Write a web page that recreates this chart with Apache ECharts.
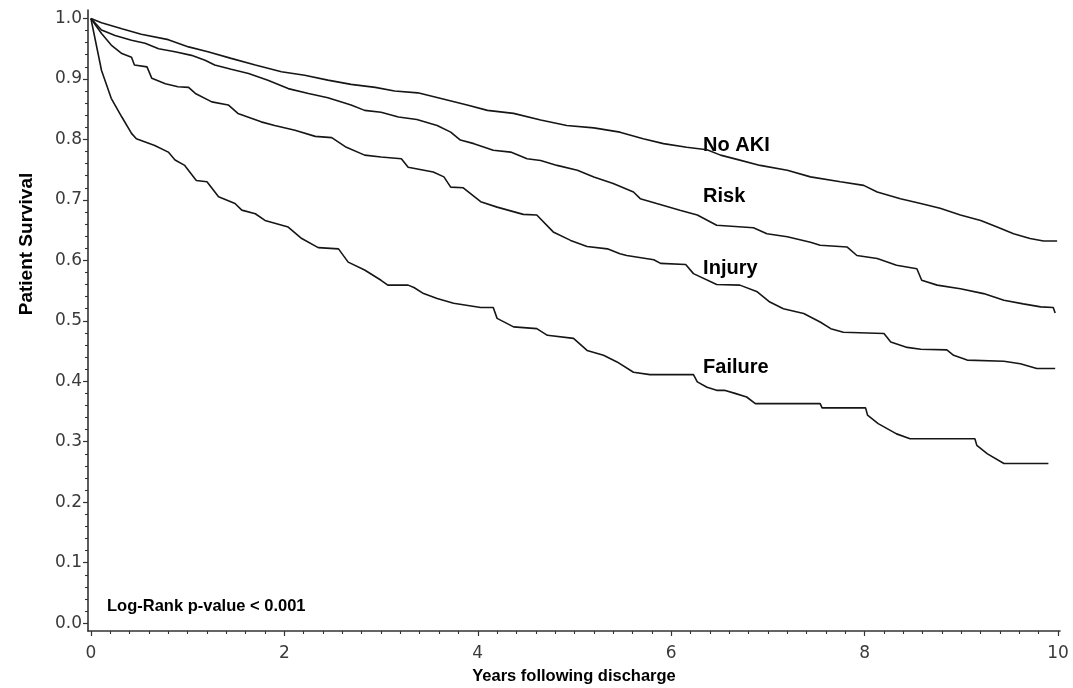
<!DOCTYPE html>
<html>
<head>
<meta charset="utf-8">
<script src="https://cdn.jsdelivr.net/npm/echarts@6/dist/echarts.min.js"></script>
<style>
  html, body { margin: 0; padding: 0; background: #fff; }
  #chart { width: 1073px; height: 688px; }
</style>
</head>
<body>
<div id="chart"></div>
<script>
// Kaplan-Meier curves: [years, survival]
var noAki = [[0,1],[0.11,0.993],[0.32,0.983],[0.52,0.974],[0.8,0.965],[1.01,0.953],[1.21,0.945],[1.45,0.934],[1.7,0.923],[1.97,0.912],[2.21,0.906],[2.45,0.898],[2.69,0.891],[2.94,0.886],[3.14,0.88],[3.38,0.877],[3.61,0.868],[3.89,0.857],[4.1,0.848],[4.37,0.843],[4.65,0.832],[4.92,0.823],[5.2,0.819],[5.47,0.812],[5.71,0.801],[5.92,0.793],[6.16,0.787],[6.37,0.783],[6.51,0.774],[6.68,0.767],[6.92,0.757],[7.2,0.749],[7.44,0.738],[7.75,0.73],[7.99,0.724],[8.13,0.713],[8.37,0.702],[8.58,0.694],[8.78,0.686],[8.99,0.675],[9.2,0.666],[9.37,0.655],[9.54,0.644],[9.71,0.636],[9.85,0.632],[9.99,0.632]]
var risk = [[0,1],[0.11,0.981],[0.25,0.972],[0.42,0.964],[0.56,0.959],[0.7,0.95],[0.87,0.945],[1.04,0.939],[1.18,0.931],[1.28,0.923],[1.45,0.916],[1.63,0.909],[1.83,0.898],[2.04,0.884],[2.25,0.876],[2.45,0.869],[2.69,0.857],[2.83,0.848],[3.0,0.845],[3.18,0.837],[3.37,0.833],[3.58,0.823],[3.72,0.812],[3.82,0.799],[3.96,0.793],[4.16,0.782],[4.34,0.779],[4.51,0.768],[4.65,0.765],[4.82,0.757],[5.03,0.749],[5.2,0.738],[5.4,0.727],[5.61,0.713],[5.68,0.702],[5.85,0.694],[6.09,0.683],[6.27,0.675],[6.47,0.658],[6.85,0.654],[6.99,0.644],[7.2,0.639],[7.44,0.63],[7.54,0.625],[7.82,0.622],[7.92,0.608],[8.13,0.603],[8.33,0.592],[8.54,0.586],[8.59,0.567],[8.75,0.559],[8.99,0.553],[9.23,0.545],[9.44,0.534],[9.64,0.528],[9.82,0.523],[9.95,0.522],[9.97,0.513]]
var injury = [[0,1],[0.11,0.975],[0.21,0.956],[0.32,0.942],[0.42,0.936],[0.45,0.923],[0.58,0.92],[0.63,0.901],[0.77,0.892],[0.9,0.887],[1.01,0.886],[1.08,0.876],[1.25,0.862],[1.42,0.857],[1.52,0.843],[1.76,0.829],[1.9,0.823],[2.11,0.815],[2.32,0.805],[2.49,0.803],[2.63,0.788],[2.83,0.774],[3.0,0.771],[3.21,0.768],[3.28,0.754],[3.54,0.746],[3.65,0.738],[3.72,0.721],[3.85,0.72],[4.03,0.697],[4.2,0.688],[4.47,0.676],[4.61,0.675],[4.78,0.647],[4.96,0.633],[5.13,0.623],[5.34,0.619],[5.47,0.611],[5.54,0.608],[5.82,0.601],[5.89,0.595],[6.15,0.593],[6.23,0.578],[6.47,0.56],[6.71,0.559],[6.89,0.548],[7.02,0.531],[7.16,0.52],[7.37,0.512],[7.54,0.498],[7.65,0.487],[7.78,0.481],[8.2,0.479],[8.27,0.465],[8.44,0.456],[8.58,0.453],[8.85,0.452],[8.92,0.443],[9.06,0.435],[9.44,0.433],[9.61,0.429],[9.78,0.421],[9.97,0.421]]
var failure = [[0,1],[0.11,0.914],[0.21,0.868],[0.32,0.837],[0.42,0.81],[0.47,0.801],[0.66,0.79],[0.8,0.779],[0.87,0.766],[0.97,0.757],[1.09,0.732],[1.2,0.73],[1.32,0.705],[1.49,0.694],[1.56,0.683],[1.7,0.677],[1.8,0.666],[2.04,0.655],[2.18,0.636],[2.35,0.621],[2.56,0.619],[2.66,0.597],[2.83,0.584],[3.0,0.567],[3.07,0.559],[3.28,0.559],[3.34,0.555],[3.44,0.545],[3.58,0.537],[3.75,0.529],[4.03,0.522],[4.16,0.522],[4.2,0.504],[4.37,0.49],[4.61,0.487],[4.72,0.476],[4.99,0.471],[5.13,0.451],[5.3,0.443],[5.44,0.432],[5.61,0.415],[5.78,0.411],[6.23,0.411],[6.27,0.399],[6.37,0.39],[6.47,0.385],[6.55,0.385],[6.66,0.38],[6.78,0.374],[6.87,0.363],[7.54,0.363],[7.56,0.356],[8.01,0.356],[8.03,0.344],[8.14,0.33],[8.33,0.313],[8.47,0.305],[9.14,0.305],[9.16,0.294],[9.27,0.28],[9.44,0.264],[9.9,0.264]]

var curveNames = ['No AKI', 'Risk', 'Injury', 'Failure']
var labelX = 6.33
var labelY = [0.790, 0.706, 0.587, 0.423]

var xMajor = [0, 2, 4, 6, 8, 10]
var yMajor = [0, 0.1, 0.2, 0.3, 0.4, 0.5, 0.6, 0.7, 0.8, 0.9, 1.0]

// minor ticks: 0.2 yr on x, 0.02 on y
var xMinor = []
for (var i = 1; i < 50; i++) { if (i % 10) xMinor.push(i / 5) }
var yMinor = []
for (var j = 1; j < 50; j++) { if (j % 5) yMinor.push(j / 50) }

var axisColor = '#333'
var tickFont = '"DejaVu Sans", sans-serif'
var boldFont = '"Liberation Sans", Arial, sans-serif'

var lineSeries = [noAki, risk, injury, failure].map(function (d, k) {
    return {
        name: curveNames[k],
        type: 'line',
        data: d,
        showSymbol: false,
        silent: true,
        lineStyle: { color: '#161616', width: 1.6 }
    }
})

var option = {
    animation: false,
    backgroundColor: '#fff',
    grid: { left: 88, right: 13, top: 10, bottom: 57, outerBoundsMode: 'none' },
    xAxis: [{
        type: 'value',
        min: -0.03,
        max: 10.02,
        position: 'bottom',
        name: 'Years following discharge',
        nameLocation: 'middle',
        nameGap: 37,
        nameTextStyle: { fontFamily: boldFont, fontWeight: 'bold', fontSize: 16.5, color: '#000' },
        axisLine: { onZero: false, lineStyle: { color: axisColor, width: 1.6 } },
        axisTick: { customValues: xMajor, length: 5, lineStyle: { color: axisColor, width: 1.2 } },
        axisLabel: { customValues: xMajor, margin: 14, fontSize: 17, color: '#3a3a3a', fontFamily: tickFont },
        splitLine: { show: false }
    }, {
        type: 'value',
        min: -0.03,
        max: 10.02,
        position: 'bottom',
        axisLine: { show: false, onZero: false },
        axisTick: { customValues: xMinor, length: 3, lineStyle: { color: axisColor, width: 1.1 } },
        axisLabel: { show: false },
        splitLine: { show: false }
    }],
    yAxis: [{
        type: 'value',
        min: -0.013,
        max: 1.014,
        position: 'left',
        axisLine: { show: true, onZero: false, lineStyle: { color: axisColor, width: 1.6 } },
        axisTick: { show: true, customValues: yMajor, length: 5, lineStyle: { color: axisColor, width: 1.2 } },
        axisLabel: {
            customValues: yMajor, margin: 6, fontSize: 17, color: '#3a3a3a', fontFamily: tickFont,
            formatter: function (v) { return v.toFixed(1) }
        },
        splitLine: { show: false }
    }, {
        type: 'value',
        min: -0.013,
        max: 1.014,
        position: 'left',
        axisLine: { show: false, onZero: false },
        axisTick: { show: true, customValues: yMinor, length: 3, lineStyle: { color: axisColor, width: 1.1 } },
        axisLabel: { show: false },
        splitLine: { show: false }
    }],
    graphic: [{
        type: 'text',
        x: 27,
        y: 244,
        rotation: Math.PI / 2,
        style: {
            text: 'Patient Survival',
            font: 'bold 19px "Liberation Sans", Arial, sans-serif',
            fill: '#000',
            align: 'center',
            verticalAlign: 'middle'
        }
    }, {
        type: 'text',
        left: 107,
        top: 598,
        style: {
            text: 'Log-Rank p-value < 0.001',
            font: 'bold 16.5px "Liberation Sans", Arial, sans-serif',
            fill: '#000'
        }
    }],
    series: lineSeries.concat([{
        type: 'scatter',
        symbolSize: 0,
        silent: true,
        data: curveNames.map(function (n, k) { return { name: n, value: [labelX, labelY[k]] } }),
        label: {
            show: true,
            position: 'right',
            distance: 0,
            formatter: '{b}',
            fontFamily: boldFont,
            fontWeight: 'bold',
            fontSize: 20,
            color: '#000',
            opacity: 1
        },
        emphasis: { disabled: true }
    }])
}

var chart = echarts.init(document.getElementById('chart'))
chart.setOption(option)
</script>
</body>
</html>
